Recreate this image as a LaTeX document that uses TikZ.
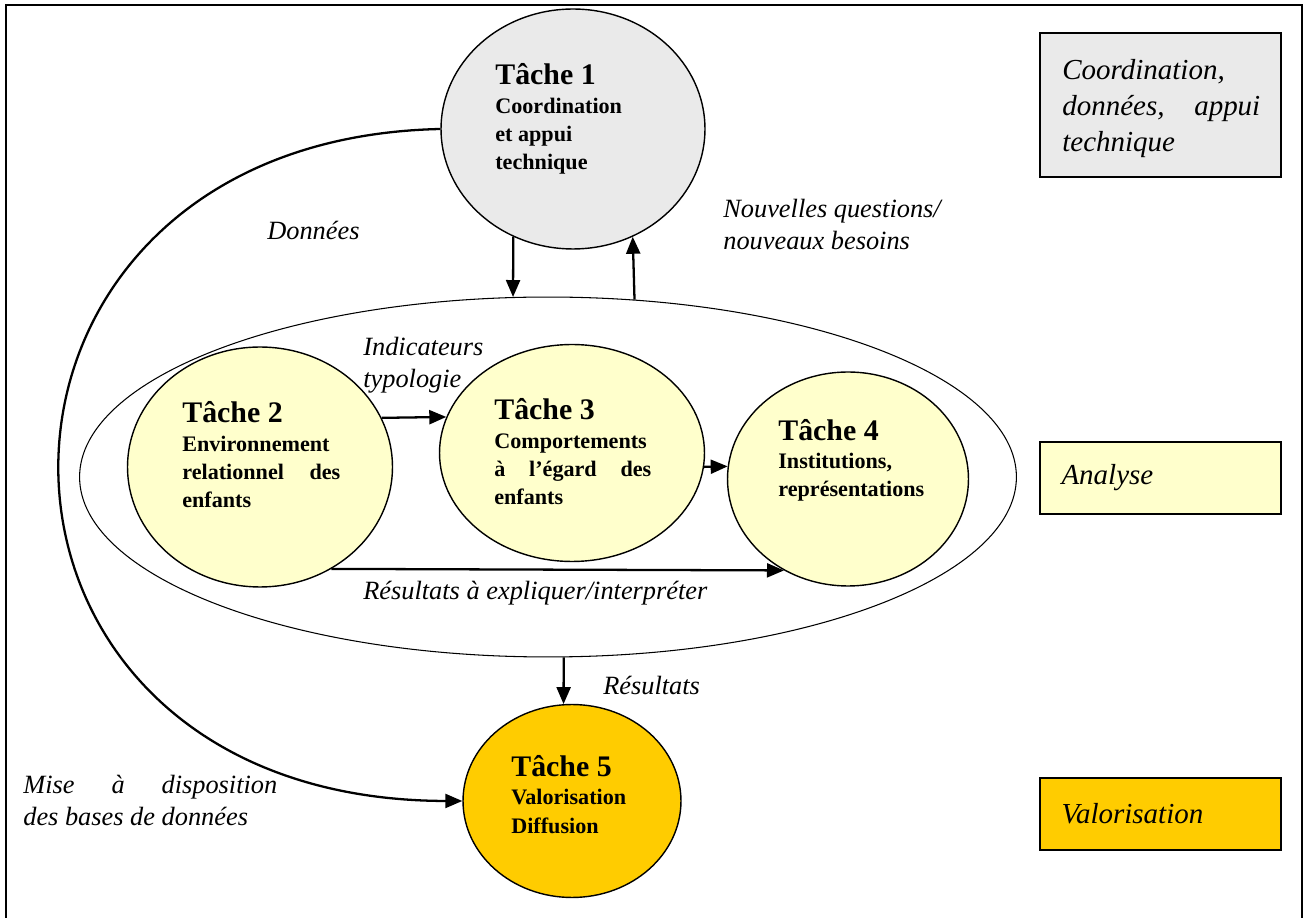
\documentclass[tikz,border=0pt]{standalone}
\usepackage{fontspec}
\setmainfont{Liberation Serif}
\usetikzlibrary{arrows.meta, shapes.geometric}

\definecolor{grisclair}{HTML}{EAEAEA}
\definecolor{jaunepale}{HTML}{FFFFCC}
\definecolor{jauneor}{HTML}{FFCC00}

\newcommand{\titretache}[1]{{\fontsize{17}{20}\selectfont #1}}

\begin{document}
\begin{tikzpicture}[x=0.02cm, y=-0.02cm, >={Triangle[length=0.34cm, width=0.28cm]},
      tache/.style={ellipse, draw, line width=0.8pt, inner sep=0pt, fill=#1},
      txtache/.style={anchor=base west, inner sep=0pt, align=left,
                      font=\fontsize{12.6}{16.2}\selectfont\bfseries},
      etiq/.style={anchor=base west, inner sep=0pt, align=left,
                   font=\fontsize{15}{18.5}\selectfont\itshape},
      boite/.style={draw, line width=0.9pt, fill=#1, minimum width=4.82cm, inner sep=0pt,
                    text width=3.96cm, align=left, font=\fontsize{16.5}{20.5}\selectfont\itshape},
      fleche/.style={->, line width=1.3pt}]

    \useasboundingbox (0,0) rectangle (1306,918);

    % cadre
    \draw[line width=1.1pt] (6,918) -- (6,5) -- (1302,5) -- (1302,918);

    % ellipse de l'analyse
    \node[ellipse, draw, line width=0.6pt, inner sep=0pt,
          minimum width=18.74cm, minimum height=7.2cm] (analyse) at (548,477) {};

    % taches
    \node[tache=grisclair,  minimum width=5.28cm, minimum height=4.8cm]  (t1) at (573,129) {};
    \node[tache=jaunepale, minimum width=5.3cm,  minimum height=4.8cm]  (t2) at (260,467) {};
    \node[tache=jaunepale, minimum width=5.3cm,  minimum height=4.34cm] (t3) at (572,453) {};
    \node[tache=jaunepale, minimum width=4.82cm, minimum height=4.28cm] (t4) at (848,479) {};
    \node[tache=jauneor,    minimum width=4.36cm, minimum height=3.86cm] (t5) at (572,801) {};

    % (base = ligne du bas)
    \node[txtache] (t1txt) at (495,170) {\titretache{Tâche 1}\\Coordination\\et appui\\technique};
    \node[txtache] (t2txt) at (182,508) {\titretache{Tâche 2}\\Environnement\\\makebox[3.16cm][s]{relationnel des}\\enfants};
    \node[txtache] (t3txt) at (494,505) {\titretache{Tâche 3}\\Comportements\\\makebox[3.14cm][s]{à l’égard des}\\enfants};
    \node[txtache] (t4txt) at (778,497) {\titretache{Tâche 4}\\Institutions,\\représentations};
    \node[txtache] (t5txt) at (511,833) {\titretache{Tâche 5}\\Valorisation\\Diffusion};

    % legende a droite
    \node[boite=grisclair, minimum height=2.88cm] (b1) at (1160.5,105) {};
    \node[anchor=base west, inner sep=0pt, align=left,
          font=\fontsize{16.5}{20.5}\selectfont\itshape] (b1txt) at (1062,152)
        {Coordination,\\\makebox[3.96cm][s]{données,\hfill appui}\\technique};
    \node[boite=jaunepale, minimum height=1.44cm] (b2) at (1160.5,478) {Analyse};
    \node[boite=jauneor,    minimum height=1.44cm] (b3) at (1160.5,814) {Valorisation};

    % etiquettes
    \node[etiq] (nq)  at (723,250) {Nouvelles questions/\\nouveaux besoins};
    \node[etiq] (don) at (267,240) {Données};
    \node[etiq] (ind) at (363,388) {Indicateurs\\typologie};
    \node[etiq] (rei) at (363,600) {Résultats à expliquer/interpréter};
    \node[etiq] (res) at (603,695) {Résultats};
    \node[etiq] (mad) at (23,826)  {\makebox[5.08cm][s]{Mise à disposition}\\des bases de données};

    % fleches
    \draw[fleche] (t1.west) .. controls (-70,140) and (-70,800) .. (t5.west);
    \draw[fleche] (t1.241.8) -- (analyse.101.3);
    \draw[fleche] (analyse.64.6) -- (t1.-61.2);
    \draw[fleche] (t2.22.5) -- (t3.164);
    \draw[fleche] (t3.-6) -- (t4.174.3);
    \draw[fleche] (t2.-55.6) -- (t4.-125.9);
    \draw[fleche] (analyse.-85.6) -- (t5.95.9);

\end{tikzpicture}
\end{document}
